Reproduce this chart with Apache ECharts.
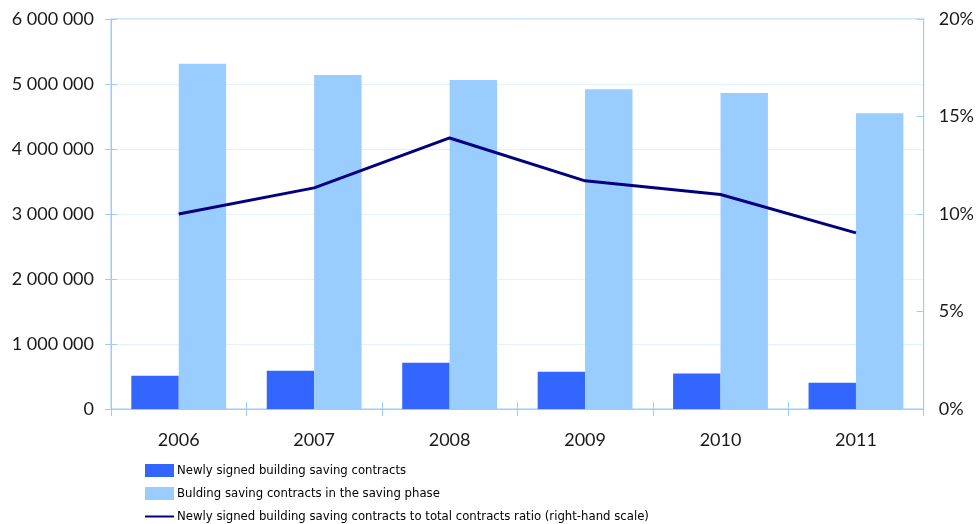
<!DOCTYPE html>
<html>
<head>
<meta charset="utf-8">
<script src="https://cdn.jsdelivr.net/npm/echarts@6/dist/echarts.min.js"></script>
<style>
  html, body { margin: 0; padding: 0; background: #fff; }
  #chart { width: 977px; height: 524px; }
</style>
</head>
<body>
<div id="chart"></div>
<script>
// data
const years = ['2006', '2007', '2008', '2009', '2010', '2011']
const newContracts = [510000, 590000, 710000, 575000, 545000, 405000]
const savingPhase = [5310000, 5140000, 5060000, 4920000, 4860000, 4550000]
const ratioPct = [10.0, 11.34, 13.9, 11.7, 11.0, 9.03]

const names = [
  'Newly signed building saving contracts',
  'Bulding saving contracts in the saving phase',
  'Newly signed building saving contracts to total contracts ratio (right-hand scale)'
]

const axisBlue = '#99CCFF'
const labelFont = { color: '#1a1a1a', fontFamily: 'Lato', fontSize: 18 }

// 6000000 -> "6 000 000"
function spaced(v) {
  return String(v).replace(/\B(?=(\d{3})+(?!\d))/g, ' ')
}

const chart = echarts.init(document.getElementById('chart'))

chart.setOption({
  animation: false,
  grid: {
    left: 111,
    right: 52,
    top: 19,
    bottom: 115,
    show: true,
    borderColor: axisBlue,
    borderWidth: 1
  },
  legend: {
    orient: 'vertical',
    left: 144,
    top: 464,
    height: 80,
    padding: 0,
    itemWidth: 29,
    itemHeight: 13,
    itemGap: 10,
    textStyle: {
      fontFamily: 'DejaVu Sans Condensed, sans-serif',
      fontSize: 13,
      color: '#000',
      lineHeight: 13,
      padding: [0, 0, 0, -2]
    },
    data: [
      { name: names[0], icon: 'rect' },
      { name: names[1], icon: 'rect' },
      // line only, no symbol in the key
      { name: names[2], itemStyle: { color: 'rgba(0,0,0,0)', borderWidth: 0 } }
    ]
  },
  xAxis: [
    {
      type: 'category',
      data: years,
      position: 'bottom',
      axisLine: { lineStyle: { color: axisBlue } },
      axisTick: { show: true, length: 7, lineStyle: { color: axisBlue } },
      axisLabel: Object.assign({ margin: 22 }, labelFont)
    },
    {
      // inner half of the crossing ticks
      type: 'category',
      data: years,
      position: 'bottom',
      offset: 0,
      axisLine: { show: false },
      axisTick: { show: true, inside: true, length: 7, lineStyle: { color: axisBlue } },
      axisLabel: { show: false }
    }
  ],
  yAxis: [
    {
      type: 'value',
      min: 0,
      max: 6000000,
      interval: 1000000,
      axisLine: { show: true, lineStyle: { color: axisBlue } },
      axisTick: { show: true, length: 6, lineStyle: { color: axisBlue } },
      axisLabel: Object.assign({ margin: 17, formatter: spaced }, labelFont),
      splitLine: { lineStyle: { color: '#E3F0FD' } }
    },
    {
      type: 'value',
      min: 0,
      max: 20,
      interval: 5,
      position: 'right',
      axisLine: { show: true, lineStyle: { color: axisBlue } },
      axisTick: { show: true, inside: true, length: 7, lineStyle: { color: axisBlue } },
      axisLabel: Object.assign({ margin: 15, formatter: v => v + '%' }, labelFont),
      splitLine: { show: false }
    },
    {
      // inner half of the crossing ticks
      type: 'value',
      min: 0,
      max: 6000000,
      interval: 1000000,
      position: 'left',
      offset: 0,
      axisLine: { show: false },
      axisTick: { show: true, inside: true, length: 6, lineStyle: { color: axisBlue } },
      axisLabel: { show: false },
      splitLine: { show: false }
    }
  ],
  series: [
    {
      name: names[0],
      type: 'bar',
      data: newContracts,
      itemStyle: { color: '#3366FF' },
      barGap: '0%',
      barCategoryGap: '30%'
    },
    {
      name: names[1],
      type: 'bar',
      data: savingPhase,
      itemStyle: { color: '#99CCFF' }
    },
    {
      name: names[2],
      type: 'line',
      yAxisIndex: 1,
      data: ratioPct,
      symbol: 'none',
      lineStyle: { color: '#000080', width: 3 },
      itemStyle: { color: '#000080' }
    }
  ]
})
</script>
</body>
</html>
